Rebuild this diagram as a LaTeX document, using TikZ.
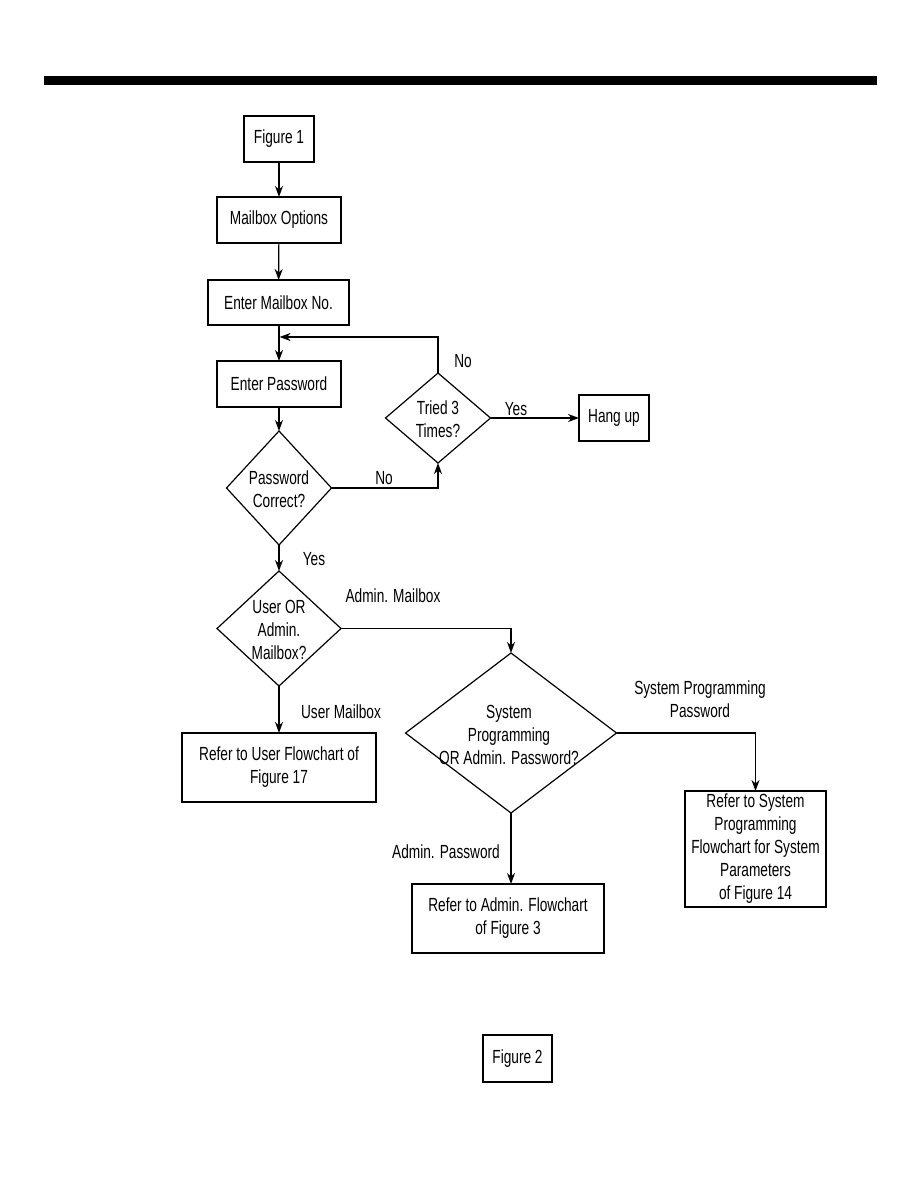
\documentclass[tikz,border=0pt]{standalone}
\usepackage{fontspec}
\setmainfont{Liberation Sans}[FakeStretch=0.72]
\usetikzlibrary{shapes.geometric,arrows.meta}
\begin{document}
\begin{tikzpicture}[x=1pt,y=-1pt,
  every node/.style={font=\fontsize{19}{23}\selectfont},
  box/.style={draw,line width=1.2pt,inner sep=0pt,outer sep=0pt,align=center},
  dia/.style={draw,diamond,line width=1.2pt,inner sep=0pt,outer sep=0pt},
  txt/.style={align=center,inner sep=0pt,yshift=-1.5pt},
  arr/.style={line width=1.2pt,-{Stealth[length=11pt,width=8pt,inset=3.5pt]}},
  ln/.style={line width=1.2pt}]
\useasboundingbox (0,0) rectangle (918,1188);
\fill (44,76) rectangle (877,85);
% boxes
\node[box,minimum width=70pt,minimum height=46pt] (f1) at (279,139) {Figure 1};
\node[box,minimum width=124pt,minimum height=46pt] (mo) at (279,220) {Mailbox Options};
\node[box,minimum width=141pt,minimum height=45pt] (emn) at (278.5,302.5) {Enter Mailbox No.};
\node[box,minimum width=124pt,minimum height=46pt] (ep) at (279,384) {Enter Password};
\node[box,minimum width=70pt,minimum height=46pt] (hang) at (614,418) {Hang up};
\node[box,minimum width=194pt,minimum height=69pt] (user) at (279,767.5) {Refer to User Flowchart of\\Figure 17};
\node[box,minimum width=192pt,minimum height=69pt] (adm) at (508,918.5) {Refer to Admin. Flowchart\\of Figure 3};
\node[box,minimum width=141pt,minimum height=116pt] (sys) at (755.5,849) {Refer to System\\Programming\\Flowchart for System\\Parameters\\of Figure 14};
\node[box,minimum width=69pt,minimum height=47pt] (f2) at (517.5,1058.5) {Figure 2};
% diamonds
\node[dia,minimum width=105pt,minimum height=114pt] (pc) at (279,488) {};
\node[txt] at (279,488) {Password\\Correct?};
\node[dia,minimum width=105pt,minimum height=90pt] (tried) at (438,418) {};
\node[txt] at (438,418) {Tried 3\\Times?};
\node[dia,minimum width=124pt,minimum height=115pt] (uoa) at (279,628.5) {};
\node[txt] at (279,628) {User OR\\Admin.\\Mailbox?};
\node[dia,minimum width=211pt,minimum height=160pt] (sp) at (511,733) {};
\node[txt] at (509,733) {System\\Programming\\OR Admin. Password?};
% connectors
\draw[arr] (f1) -- (mo);
\draw[arr] (mo) -- (emn);
\draw[arr] (emn.south -| ep.north) -- (ep.north);
\coordinate (join) at (279.6,337);
\draw[arr] (tried.north) |- (join);
\draw[arr] (ep) -- (pc.north);
\draw[arr] (pc.east) -| (tried.south);
\draw[arr] (tried.east) -- (hang.west);
\draw[arr] (pc.south) -- (uoa.north);
\draw[arr] (uoa.east) -| (sp.north);
\draw[arr] (uoa.south) -- (user.north);
\draw[arr] (sp.east) -| (sys.north);
\draw[arr] (sp.south) -- (sp.south |- adm.north);
% labels
\node[txt] at (463,360) {No};
\node[txt] at (516,408) {Yes};
\node[txt] at (384,477) {No};
\node[txt] at (314,558) {Yes};
\node[txt] at (393,594) {Admin. Mailbox};
\node[txt] at (341,710) {User Mailbox};
\node[txt] at (700,698) {System Programming\\Password};
\node[txt] at (446,850) {Admin. Password};
\end{tikzpicture}
\end{document}
